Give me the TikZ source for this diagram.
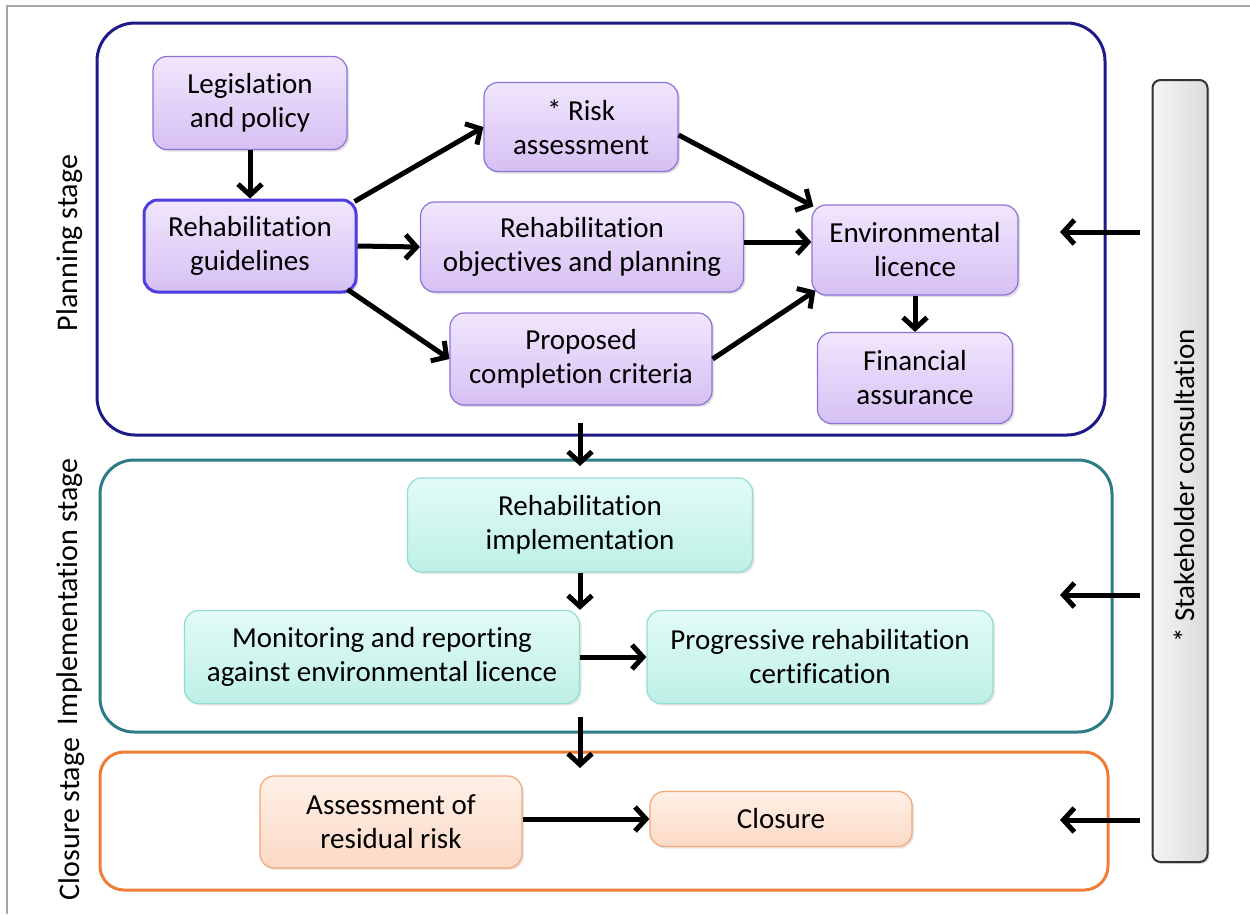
\documentclass[tikz,border=0pt]{standalone}
\usepackage{fontspec}
\setmainfont{Carlito}[Ligatures={NoCommon}]
\usetikzlibrary{arrows.meta,shadows}
\definecolor{navy}{HTML}{1E1A8A}
\definecolor{tealc}{HTML}{2C7C86}
\definecolor{orangec}{HTML}{F07E38}
\definecolor{pfill1}{HTML}{F1E6FD}
\definecolor{pfill2}{HTML}{D6C0F4}
\definecolor{pdraw}{HTML}{8C74D6}
\definecolor{tfill1}{HTML}{E2FBF6}
\definecolor{tfill2}{HTML}{BDF0E6}
\definecolor{tdraw}{HTML}{93DCD2}
\definecolor{ofill1}{HTML}{FFF0E6}
\definecolor{ofill2}{HTML}{FBD9C6}
\definecolor{odraw}{HTML}{F2A777}
\definecolor{guidedraw}{HTML}{4F3FE0}
\begin{document}
\begin{tikzpicture}[x=1pt,y=-1pt,
  every node/.style={font=\fontsize{29}{34}\selectfont, text=black},
  stage/.style={rounded corners=38pt, line width=3pt},
  pbox/.style={rounded corners=14pt, draw=pdraw, line width=1.2pt, top color=pfill1, bottom color=pfill2, align=center, inner sep=0pt, drop shadow={opacity=0.25, shadow xshift=2pt, shadow yshift=-2pt}},
  tbox/.style={rounded corners=14pt, draw=tdraw, line width=1.2pt, top color=tfill1, bottom color=tfill2, align=center, inner sep=0pt, drop shadow={opacity=0.2, shadow xshift=2pt, shadow yshift=-2pt}},
  obox/.style={rounded corners=14pt, draw=odraw, line width=1.2pt, top color=ofill1, bottom color=ofill2, align=center, inner sep=0pt, drop shadow={opacity=0.2, shadow xshift=2pt, shadow yshift=-2pt}},
  arr/.style={line width=5pt, -{Straight Barb[length=11pt,width=24pt,line width=5pt]}},
  slabel/.style={rotate=90, font=\fontsize{30}{34}\selectfont, text=black}
]
\useasboundingbox (0,0) rectangle (1250,914);
\fill[white] (0,0) rectangle (1250,914);
\draw[gray!70, line width=2pt] (7,914) -- (7,6) -- (1250,6);

% stage boxes
\draw[stage, draw=navy] (97,23) rectangle (1105,435);
\draw[stage, draw=tealc, rounded corners=34pt] (100,460) rectangle (1112,732);
\draw[stage, draw=orangec, rounded corners=24pt] (100,752) rectangle (1108,890);

% stage labels
\node[slabel] (lp) at (70,243) {Planning stage};
\node[slabel] (li) at (70,592) {Implementation stage};
\node[slabel] (lc) at (72,819) {Closure stage};

% stakeholder bar
\node[draw=black!80, line width=2pt, rounded corners=8pt, left color=gray!8, right color=gray!28, minimum width=55pt, minimum height=782pt, inner sep=0pt, drop shadow={opacity=0.25, shadow xshift=2pt, shadow yshift=-2pt}] (sh) at (1180,471) {};
\node[rotate=90] (sht) at (1184,486) {* Stakeholder consultation};
\coordinate (s1) at (1140,232);
\coordinate (s2) at (1140,595);
\coordinate (s3) at (1140,820);
\coordinate (t1) at (1060,232);
\coordinate (t2) at (1060,595);
\coordinate (t3) at (1060,820);

% planning nodes
\node[pbox, minimum width=194pt, minimum height=93pt] (leg) at (250,103) {Legislation\\and policy};
\node[pbox, draw=guidedraw, line width=3pt, minimum width=212pt, minimum height=92pt] (gui) at (250,246) {Rehabilitation\\guidelines};
\node[pbox, minimum width=194pt, minimum height=89pt] (risk) at (581,127) {* Risk\\assessment};
\node[pbox, minimum width=323pt, minimum height=90pt] (obj) at (582,247) {Rehabilitation\\objectives and planning};
\node[pbox, minimum width=262pt, minimum height=92pt] (prop) at (581,359) {Proposed\\completion criteria};
\node[pbox, minimum width=206pt, minimum height=90pt] (env) at (915,250) {Environmental\\licence};
\node[pbox, minimum width=195pt, minimum height=91pt] (fin) at (915,378) {Financial\\assurance};

% implementation nodes
\node[tbox, minimum width=345pt, minimum height=94pt] (impl) at (580,525) {Rehabilitation\\implementation};
\node[tbox, minimum width=395pt, minimum height=93pt] (mon) at (382,657) {Monitoring and reporting\\against environmental licence};
\node[tbox, minimum width=346pt, minimum height=93pt] (prog) at (820,657) {Progressive rehabilitation\\certification};

% closure nodes
\node[obox, minimum width=262pt, minimum height=92pt] (ass) at (391,822) {Assessment of\\residual risk};
\node[obox, minimum width=262pt, minimum height=55pt] (clo) at (781,819) {Closure};

% coordinates for inter-stage arrows
\coordinate (p1) at (580,423);
\coordinate (p2) at (580,466);
\coordinate (p3) at (580,717);
\coordinate (p4) at (580,768);

% arrows
\draw[arr] (leg) -- (gui);
\draw[arr] ([xshift=-3pt,yshift=-3pt]gui.north east) -- (risk.west);
\draw[arr] (gui.east) -- (obj.west);
\draw[arr] ([xshift=-10pt,yshift=4pt]gui.south east) -- (prop.west);
\draw[arr] ([yshift=-8pt]risk.east) -- ([xshift=2pt,yshift=-2pt]env.north west);
\draw[arr] ([yshift=5pt]obj.east) -- ([yshift=8pt]env.west);
\draw[arr] (prop.east) -- ([xshift=4pt,yshift=5pt]env.south west);
\draw[arr] (env) -- (fin);
\draw[arr] (p1) -- (p2);
\draw[arr] (impl) -- (mon.north -| impl);
\draw[arr] (mon.east) -- (prog.west);
\draw[arr] (p3) -- (p4);
\draw[arr] (ass.east |- clo.west) -- (clo.west);
\draw[arr] (s1) -- (t1);
\draw[arr] (s2) -- (t2);
\draw[arr] (s3) -- (t3);
\end{tikzpicture}
\end{document}
